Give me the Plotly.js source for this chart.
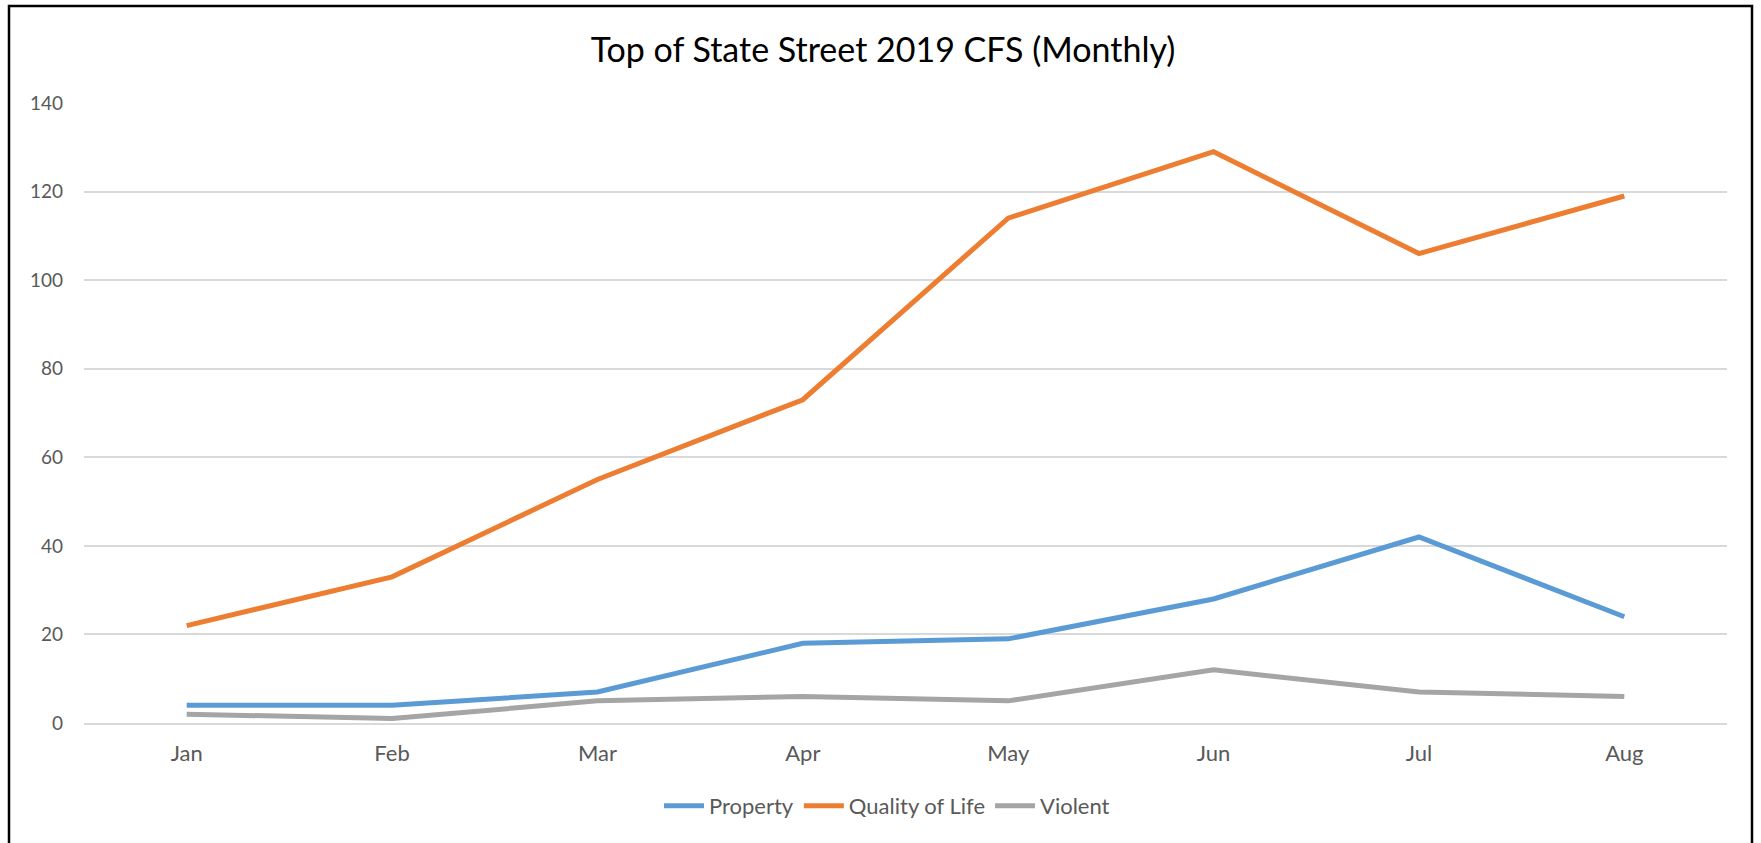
<!DOCTYPE html>
<html>
<head>
<meta charset="utf-8">
<script src="https://cdn.plot.ly/plotly-3.0.1.min.js"></script>
<style>
html,body{margin:0;padding:0;background:#fff;}
#chart{width:1761px;height:843px;}
</style>
</head>
<body>
<div id="chart"></div>
<script>
const months = ["Jan","Feb","Mar","Apr","May","Jun","Jul","Aug"];
const property = [4, 4, 7, 18, 19, 28, 42, 24];
const qualityOfLife = [22, 33, 55, 73, 114, 129, 106, 119];
const violent = [2, 1, 5, 6, 5, 12, 7, 6];
const seriesNames = ["Property", "Quality of Life", "Violent"];
const seriesColors = ["#5B9BD5", "#ED7D31", "#A5A5A5"];

const FONT = "Lato, 'Liberation Sans', Arial, sans-serif";
const allSeries = [property, qualityOfLife, violent];
const traces = allSeries.map((vals, i) => ({
  type: "scatter",
  mode: "lines",
  x: months,
  y: vals,
  name: seriesNames[i],
  line: {color: seriesColors[i], width: 5},
  hoverinfo: "x+y+name"
}));

const layout = {
  width: 1761,
  height: 843,
  margin: {l: 84, r: 34, t: 103, b: 120, autoexpand: false},
  paper_bgcolor: "#ffffff",
  plot_bgcolor: "#ffffff",
  font: {family: FONT, color: "#595959", size: 20},
  title: {
    text: "Top of State Street 2019 CFS (Monthly)",
    font: {family: FONT, size: 34, color: "#000000"},
    x: 883 / 1761, xanchor: "center", xref: "container",
    y: 1 - 50/843, yanchor: "middle", yref: "container"
  },
  xaxis: {
    type: "category",
    range: [-0.5, 7.5],
    showgrid: false,
    zeroline: false,
    showline: true,
    linecolor: "#D9D9D9",
    linewidth: 1.5,
    ticks: "",
    ticklabelstandoff: 10,
    tickfont: {family: FONT, size: 22, color: "#595959"},
    fixedrange: true
  },
  yaxis: {
    range: [0, 140],
    dtick: 20,
    tick0: 0,
    showgrid: true,
    gridcolor: "#D9D9D9",
    gridwidth: 1.5,
    zeroline: false,
    showline: false,
    ticks: "",
    ticklabelstandoff: 20,
    tickfont: {family: FONT, size: 19, color: "#595959"},
    fixedrange: true
  },
  showlegend: true,
  legend: {
    orientation: "h",
    x: (887 - 84) / 1643, xanchor: "center",
    y: (723 - 806) / 620, yanchor: "middle",
    font: {family: FONT, size: 22, color: "#595959"},
    itemwidth: 40,
    bgcolor: "rgba(0,0,0,0)"
  },
  shapes: [{
    type: "rect",
    xref: "paper", yref: "paper",
    x0: (9 - 84) / 1643, x1: (1752 - 84) / 1643,
    y0: (723 - 860) / 620, y1: (723 - 6) / 620,
    line: {color: "#000000", width: 2.5},
    fillcolor: "rgba(0,0,0,0)",
    layer: "above"
  }]
};

Plotly.newPlot("chart", traces, layout, {displayModeBar: false, staticPlot: false});
</script>
</body>
</html>
